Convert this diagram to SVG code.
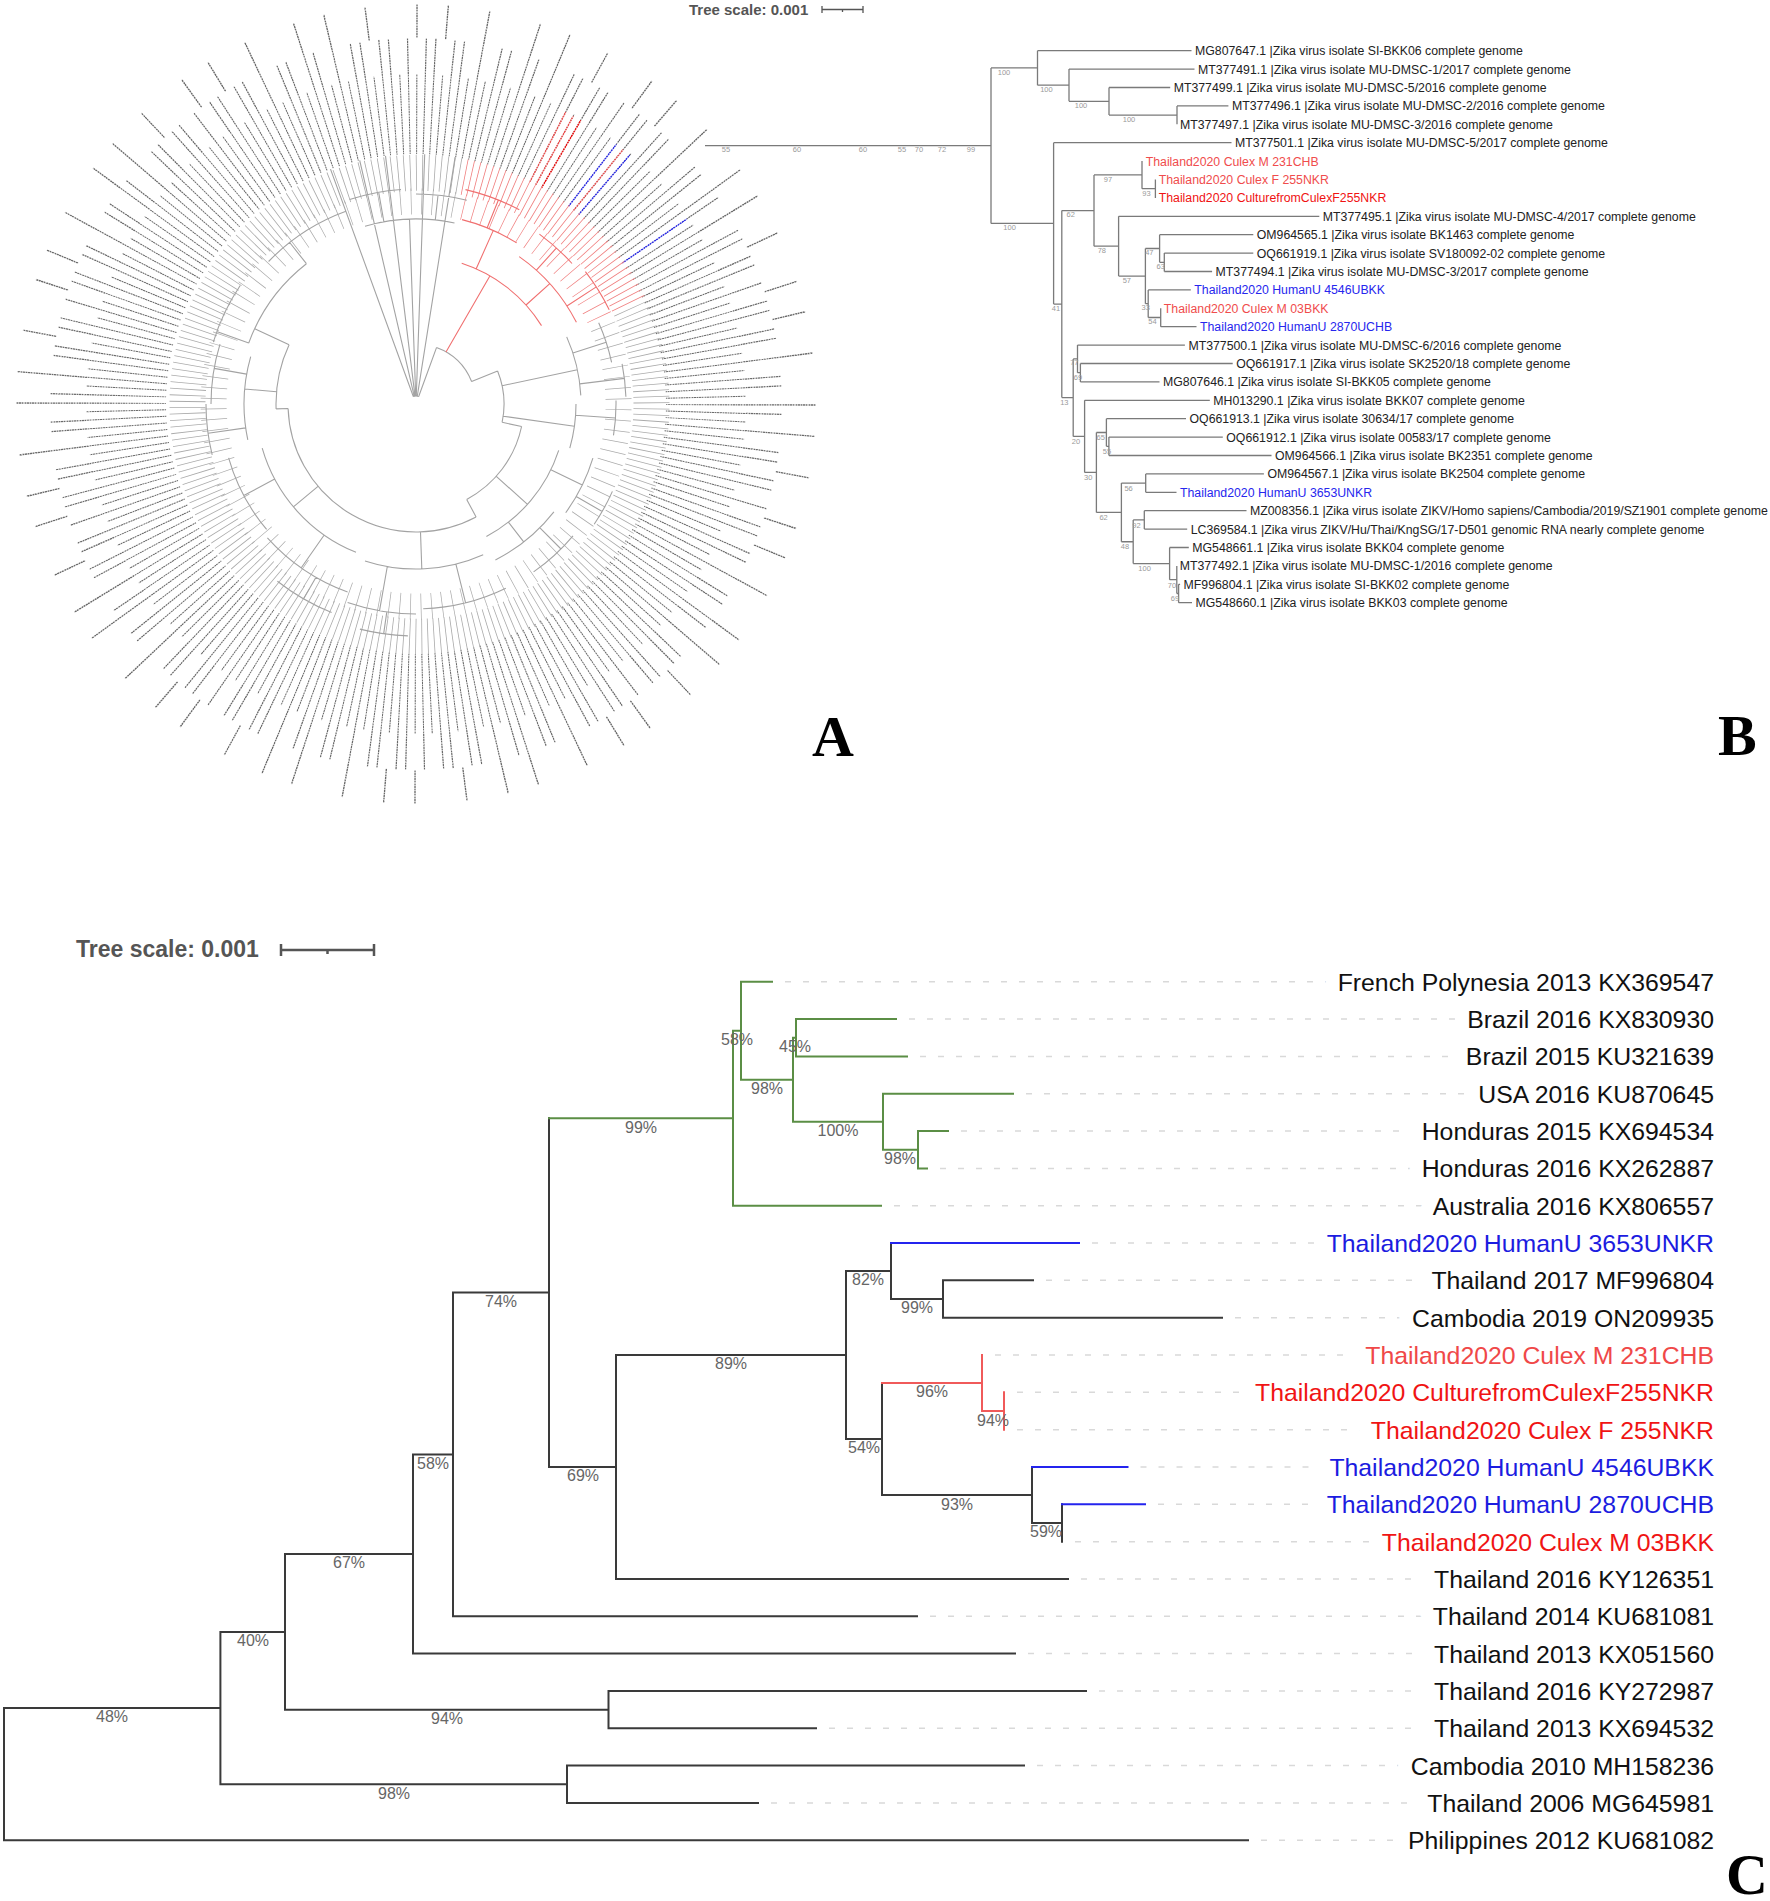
<svg xmlns="http://www.w3.org/2000/svg" width="1770" height="1901" viewBox="0 0 1770 1901">
<defs>
<radialGradient id="txtbreak" gradientUnits="userSpaceOnUse" cx="0" cy="0" r="2.6" spreadMethod="repeat">
<stop offset="0" stop-color="#fff" stop-opacity="0"/>
<stop offset="0.55" stop-color="#fff" stop-opacity="0"/>
<stop offset="0.55" stop-color="#fff" stop-opacity="0.55"/>
<stop offset="1" stop-color="#fff" stop-opacity="0.55"/>
</radialGradient>
</defs>
<style>
.a{fill:none;stroke:#a3a3a3;stroke-width:1.1}
.ar{fill:none;stroke:#f07070;stroke-width:1.1}
.ra{fill:none;stroke:#ababab;stroke-linejoin:bevel}
.rr{fill:none;stroke:#f08080;stroke-linejoin:bevel}
.lb{fill:none;stroke:#6a6a6a;stroke-linejoin:bevel}
.b{fill:none;stroke:#7a7a7a;stroke-width:1.3}
.bt{font-family:"Liberation Sans",Arial,sans-serif;font-size:12.3px;fill:#222}
.btl{fill:#f04c4c}
.btr{fill:#f01212}
.btb{fill:#2626ee}
.bs{font-family:"Liberation Sans",Arial,sans-serif;font-size:7.5px;fill:#9a9a9a;text-anchor:middle}
.ck{fill:none;stroke:#3a3a3a;stroke-width:2;stroke-linecap:square}
.cg{stroke:#5b8e45}
.cb{stroke:#2424ee}
.cr{stroke:#f05a5a}
.cd{fill:none;stroke:#d9d9d9;stroke-width:1.5;stroke-dasharray:6 12}
.ct{font-family:"Liberation Sans",Arial,sans-serif;font-size:24.8px;text-anchor:end;fill:#111;stroke:#fff;stroke-width:28;stroke-linejoin:round;paint-order:stroke}
.ctl{fill:#f04848}
.ctr{fill:#f01414}
.ctb{fill:#1c1ce0}
.cp{font-family:"Liberation Sans",Arial,sans-serif;font-size:16px;fill:#666;text-anchor:middle}
.sc{font-family:"Liberation Sans",Arial,sans-serif;font-weight:bold;fill:#555}
.sb{fill:none;stroke:#555}
.let{font-family:"Liberation Serif","Times New Roman",serif;font-weight:bold;font-size:58px;fill:#000}
</style>
<rect width="1770" height="1901" fill="#fff"/>

<!-- PANEL A: circular tree -->
<g id="panelA" transform="translate(416,404)">
  <g id="A-labels">
    <path class="lb" stroke-width="80" pathLength="360" stroke-dasharray="0.2 1.3" stroke-dashoffset="-0.05" d="M290,0A290,290 0 1 1 -290,0A290,290 0 1 1 290,0"/>
    <path class="lb" stroke-width="36" pathLength="360" stroke-dasharray="0.2 1.3 0.2 2.8 0.2 2.8 0.2 1.3 0.2 2.8" stroke-dashoffset="-0.05" d="M348,0A348,348 0 1 1 -348,0A348,348 0 1 1 348,0"/>
    <path class="lb" stroke-width="34" pathLength="360" stroke-dasharray="0.2 4.3 0.2 5.8 0.2 7.3" stroke-dashoffset="-0.05" d="M383,0A383,383 0 1 1 -383,0A383,383 0 1 1 383,0"/>
    <g stroke-width="1.3">
      <line x1="250" y1="0" x2="328" y2="0" stroke="#f05050" transform="rotate(-62.85)"/>
      <line x1="250" y1="0" x2="328" y2="0" stroke="#f05050" transform="rotate(-61.35)"/>
      <line x1="250" y1="0" x2="328" y2="0" stroke="#f01010" transform="rotate(-59.85)"/>
      <line x1="250" y1="0" x2="328" y2="0" stroke="#f05050" transform="rotate(-50.85)"/>
      <line x1="250" y1="0" x2="328" y2="0" stroke="#2a2af0" transform="rotate(-52.35)"/>
      <line x1="250" y1="0" x2="328" y2="0" stroke="#2a2af0" transform="rotate(-49.35)"/>
      <line x1="250" y1="0" x2="328" y2="0" stroke="#2a2af0" transform="rotate(-34.35)"/>
    </g>
    <circle r="326" fill="none" stroke="url(#txtbreak)" stroke-width="150"/>
  </g>
  <g id="A-branches">
    <path class="ra" stroke-width="36" pathLength="307" stroke-dasharray="0.2 1.3" stroke-dashoffset="0.49" d="M212.8,-99.3A232,232 0 1 1 48.2,-226.9"/>
    <path class="rr" stroke-width="36" pathLength="53" stroke-dasharray="0.2 1.3" stroke-dashoffset="1.49" d="M48.2,-226.9A232,232 0 0 1 212.8,-99.3"/>
    <path class="ra" stroke-width="26" pathLength="307" stroke-dasharray="0.2 2.8" stroke-dashoffset="0.49" d="M183.6,-85.6A202.5,202.5 0 1 1 42.1,-198.1"/>
    <path class="rr" stroke-width="26" pathLength="53" stroke-dasharray="0.2 2.8" stroke-dashoffset="1.49" d="M42.1,-198.1A202.5,202.5 0 0 1 183.6,-85.6"/>
    <path class="a" d="M2.7,-7.5L20.5,-56.4M20.5,-56.4A60,60 0 0 1 55.6,-22.5M55.6,-22.5L81.6,-33M81.6,-33A88,88 0 0 1 86.1,18.3M86.1,18.3L105.6,22.5M105.6,22.5A108,108 0 0 1 50.7,95.4M50.7,95.4L60.1,113M60.1,113A128,128 0 0 1 -127.9,4.5M-127.9,4.5L-139.9,4.9M-139.9,4.9A140,140 0 0 1 -126.9,-59.2
    M-126.9,-59.2L-161.3,-75.3M-167.3,-60.9A178,178 0 0 1 -109.6,-140.3M-167.3,-60.9L-199.3,-72.5M-202.7,-61.9A212,212 0 0 1 -175.8,-118.5M-109.6,-140.3L-126.3,-161.5M-147.4,-142.5A205,205 0 0 1 -70.1,-192.7
    M-139.4,-12.2L-171.3,-15M-168.2,35.8A172,172 0 0 1 -165.3,-47.4M-170.3,23.9L-207.9,29.2M-203.8,50.8A210,210 0 0 1 -210,0M-169.4,-29.9L-201.9,-35.6M-205,0A205,205 0 0 1 -196,-59.9
    M-98,82.3L-122.6,102.9M-60,148.3A160,160 0 0 1 -153.8,44.1M-91.8,131L-114.7,163.8M-68.4,188A200,200 0 0 1 -148.6,133.8M-141.3,75.1L-172.2,91.5M-149.4,125.4A195,195 0 0 1 -187.4,53.8M-100,173.2L-112.5,194.9M-84.4,208.6A225,225 0 0 1 -138.6,177.3
    M4.5,127.9L5.8,164.8M67.2,150.8A165,165 0 0 1 -51,156.9M39.9,160.1L49.6,198.9M89.8,184.3A205,205 0 0 1 7.2,204.8M-28.7,162.5L-36.5,206.8M0,210A210,210 0 0 1 -68.4,198.6M-29.2,207.9L-32.3,229.7M-8.1,231.9A232,232 0 0 1 -56.1,225.1
    M80.3,72.3L111.5,100.4M142.7,46.4A150,150 0 0 1 70.4,132.4M134.8,65.8L166.3,81.1M176.9,54.1A185,185 0 0 1 149.7,108.7M92.4,118.2L107.7,137.9M137.9,107.8A175,175 0 0 1 79.4,155.9M123.7,123.7L145,145M157,131.8A205,205 0 0 1 117.6,167.9M160.2,92.5L186.2,107.5M196.4,87.4A215,215 0 0 1 178.2,120.2
    M87.1,12.2L158.4,22.3M160,0A160,160 0 0 1 153.8,44.1M159.6,11.2L199.5,14M200,-3.5A200,200 0 0 1 197.5,31.3
    M86.1,-18.3L161.4,-34.3M150.7,-67.1A165,165 0 0 1 164.8,-8.6M156.9,-51L190.2,-61.8M182.7,-81.3A200,200 0 0 1 195.6,-41.6M163.8,-20.1L208.4,-25.6M206.1,-40.1A210,210 0 0 1 209.9,-7.3
    M-0.3,-8L-6.5,-184.9M-51,-177.8A185,185 0 0 1 38.5,-181M-32.1,-182.2L-37.3,-211.7M-66.4,-204.5A215,215 0 0 1 -15,-214.5M19.3,-184L22,-208.8M0,-210A210,210 0 0 1 50.8,-203.8
    M-2.7,-7.5L-85.5,-234.9M-1.8,-7.8L-56.3,-243.6M-1,-7.9L-30.5,-248.1M0.3,-8L8.7,-249.8M1.3,-7.9L39.1,-246.9M-2.7,-7.5A8,8 0 0 1 2.7,-7.5"/>
    <path class="ar" d="M30,-52L74,-128.2M45.7,-140.7A148,148 0 0 1 125.5,-78.4M60.2,-135.2L77.3,-173.6M46,-184.4A190,190 0 0 1 100.7,-161.1M110,-99L133.8,-120.4M103.2,-147.4A180,180 0 0 1 160.4,-81.7M120.4,-133.8L140.5,-156.1M123.4,-169.9A210,210 0 0 1 156,-140.5M150.9,-98L180.3,-117.1M169.4,-132.4A215,215 0 0 1 193.2,-94.3M71.2,-176.2L82.4,-204M49.5,-214.4A220,220 0 0 1 103.3,-194.2"/>
  </g>
</g>
<g id="A-scale">
  <text class="sc" x="689" y="15" font-size="15">Tree scale: 0.001</text>
  <path class="sb" stroke-width="1.3" d="M822,9.5H863M822,6V13M863,6V13M842.5,9.5V12"/>
</g>
<text id="labelA" class="let" x="812" y="756">A</text>

<!-- PANEL B -->
<g id="connectors">
<g id="B-connectors">
<path class="b" d="M705,145.7H991M991,67.95V223.4M991,67.95H1037.5M1037.5,50.7V85.2M1037.5,50.7H1191.5M1037.5,85.2H1069M1069,69.1V101.3M1069,69.1H1194.5M1069,101.3H1109M1109,87.5V115.1M1109,87.5H1170.2M1109,115.1H1177M1177,105.9V124.3M1177,105.9H1228.4
M991,223.4H1053.6M1053.6,142.7V304.1M1053.6,142.7H1231.5M1053.6,304.1H1061.8M1061.8,210.6V397.6M1061.8,210.6H1094M1094,174.9V246.2M1094,174.9H1142M1142,161.1V188.7M1142,188.7H1155.4M1155.4,179.5V197.9M1094,246.2H1118.6M1118.6,216.3V276.1M1118.6,216.3H1319.3M1118.6,276.1H1145.4M1145.4,248.5V303.7M1145.4,248.5H1159.6M1159.6,234.7V262.3M1159.6,234.7H1253.3M1159.6,262.3H1164.3M1164.3,253.1V271.5M1164.3,253.1H1253.3M1164.3,271.5H1212.1M1145.4,303.7H1148.2M1148.2,289.9V317.5M1148.2,289.9H1190.8M1148.2,317.5H1160.7M1160.7,308.3V326.7M1160.7,326.7H1196.5
M1061.8,397.6H1073.2M1073.2,358.9V436.4M1073.2,358.9H1077.5M1077.5,345.1V372.7M1077.5,345.1H1184.9M1077.5,372.7H1080.4M1080.4,363.5V381.9M1080.4,363.5H1232.7M1080.4,381.9H1159.5M1073.2,436.4H1084.6M1084.6,400.3V472.45M1084.6,400.3H1209.8M1084.6,472.45H1096.4M1096.4,432.5V512.4M1096.4,432.5H1106.4M1106.4,418.7V446.3M1106.4,418.7H1186M1106.4,446.3H1108.9M1108.9,437.1V455.5M1108.9,437.1H1222.8M1108.9,455.5H1271.5M1096.4,512.4H1121.4M1121.4,483.1V541.75M1121.4,483.1H1145.7M1145.7,473.9V492.3M1145.7,473.9H1263.9M1145.7,492.3H1176.5M1121.4,541.75H1133.2M1133.2,519.9V563.6M1133.2,519.9H1144.3M1144.3,510.7V529.1M1144.3,510.7H1246.5M1144.3,529.1H1187.2M1133.2,563.6H1169.6M1169.6,547.5V579.7M1169.6,547.5H1188.8M1169.6,579.7H1176.8M1176.8,565.9V593.5M1176.8,593.5H1178.6M1178.6,584.3V602.7M1178.6,584.3H1180.1M1178.6,602.7H1192"/>
</g>
<g id="C-connectors">
<path class="ck" d="M4,1708.1V1840.3M4,1708.1H220.4M4,1840.3H1248M220.4,1631.9V1784.3M220.4,1631.9H285M220.4,1784.3H567M567,1765.6V1803M567,1765.6H1024M567,1803H758M285,1554V1709.7M285,1554H413M285,1709.7H608.5M608.5,1691V1728.3M608.5,1691H1086M608.5,1728.3H816M413,1454.5V1653.6M413,1454.5H453M413,1653.6H1015M453,1292.6V1616.3M453,1292.6H549M453,1616.3H917M549,1118.2V1467M549,1467H616M616,1355V1579M616,1355H846M616,1579H1068M846,1271V1439M846,1271H891M846,1439H882M891,1243V1299M891,1299H943M943,1280.3V1317.7M943,1280.3H1033M943,1317.7H1222M882,1383V1495M882,1495H1032M1032,1467V1523M1032,1523H1062M1062,1504.3V1541.7"/>
<path class="ck cg" d="M549,1118.2H733M733,1030.7V1205.7M733,1030.7H741M733,1205.7H881M741,981.7V1079.7M741,981.7H772M741,1079.7H793M793,1037.7V1121.7M793,1037.7H796M793,1121.7H883M796,1019V1056.4M796,1019H896M796,1056.4H907M883,1093.7V1149.7M883,1093.7H1013M883,1149.7H918M918,1131V1168.4M918,1131H948M918,1168.4H927"/>
<path class="ck cb" d="M891,1243H1079M1032,1467H1127.5M1062,1504.3H1145"/>
<path class="ck cr" d="M882,1383H982M982,1355V1411M982,1411H1004M1004,1392.3V1429.7"/>
<path class="cd" d="M785,981.7H1705M909,1019H1705M920,1056.4H1705M1026,1093.7H1705M961,1131H1705M940,1168.4H1705M894,1205.7H1705M1092,1243H1705M1046,1280.3H1705M1235,1317.7H1705M995,1355H1705M1017,1392.3H1705M1017,1429.7H1705M1140.5,1467H1705M1158,1504.3H1705M1075,1541.7H1705M1081,1579H1705M930,1616.3H1705M1028,1653.6H1705M1099,1691H1705M829,1728.3H1705M1037,1765.6H1705M771,1803H1705M1261,1840.3H1705"/>
</g>
</g>

<g id="B-support">
<text class="bs" x="726" y="152">55</text><text class="bs" x="797" y="152">60</text><text class="bs" x="863" y="152">60</text><text class="bs" x="902" y="152">55</text><text class="bs" x="919" y="152">70</text><text class="bs" x="942" y="152">72</text><text class="bs" x="971" y="152">99</text>
<text class="bs" x="1004" y="74.7">100</text><text class="bs" x="1046.4" y="92">100</text><text class="bs" x="1081" y="108">100</text><text class="bs" x="1129" y="122">100</text><text class="bs" x="1009.6" y="230.4">100</text>
<text class="bs" x="1070.7" y="217">62</text><text class="bs" x="1107.9" y="181.7">97</text><text class="bs" x="1146.4" y="196">93</text><text class="bs" x="1101.8" y="253.4">78</text><text class="bs" x="1126.8" y="283.4">57</text><text class="bs" x="1149.3" y="255">47</text><text class="bs" x="1160.7" y="269.4">63</text><text class="bs" x="1145.7" y="310">33</text><text class="bs" x="1152.5" y="324.4">54</text><text class="bs" x="1056" y="311">41</text>
<text class="bs" x="1064.3" y="405.4">13</text><text class="bs" x="1074.3" y="365.4">77</text><text class="bs" x="1077.9" y="380">69</text><text class="bs" x="1076" y="443.7">20</text><text class="bs" x="1088.2" y="480">30</text><text class="bs" x="1100.7" y="440">65</text><text class="bs" x="1107" y="453.7">55</text><text class="bs" x="1103.6" y="520">62</text><text class="bs" x="1128.6" y="491">56</text><text class="bs" x="1125" y="549.4">48</text><text class="bs" x="1136.4" y="527.7">92</text><text class="bs" x="1144.6" y="571.4">100</text><text class="bs" x="1172" y="587.7">70</text><text class="bs" x="1175" y="601">69</text>
</g>

<g id="B-leaves">
<text id="b0" class="bt" x="1195" y="55.1">MG807647.1 |Zika virus isolate SI-BKK06 complete genome</text>
<text id="b1" class="bt" x="1198" y="73.5">MT377491.1 |Zika virus isolate MU-DMSC-1/2017 complete genome</text>
<text id="b2" class="bt" x="1173.7" y="91.9">MT377499.1 |Zika virus isolate MU-DMSC-5/2016 complete genome</text>
<text id="b3" class="bt" x="1231.9" y="110.3">MT377496.1 |Zika virus isolate MU-DMSC-2/2016 complete genome</text>
<text id="b4" class="bt" x="1180" y="128.7">MT377497.1 |Zika virus isolate MU-DMSC-3/2016 complete genome</text>
<text id="b5" class="bt" x="1235" y="147.1">MT377501.1 |Zika virus isolate MU-DMSC-5/2017 complete genome</text>
<text id="b6" class="bt btl" x="1145.7" y="165.5">Thailand2020 Culex M 231CHB</text>
<text id="b7" class="bt btl" x="1158.7" y="183.9">Thailand2020 Culex F 255NKR</text>
<text id="b8" class="bt btr" x="1158.7" y="202.3">Thailand2020 CulturefromCulexF255NKR</text>
<text id="b9" class="bt" x="1322.8" y="220.7">MT377495.1 |Zika virus isolate MU-DMSC-4/2017 complete genome</text>
<text id="b10" class="bt" x="1256.8" y="239.1">OM964565.1 |Zika virus isolate BK1463 complete genome</text>
<text id="b11" class="bt" x="1256.8" y="257.5">OQ661919.1 |Zika virus isolate SV180092-02 complete genome</text>
<text id="b12" class="bt" x="1215.6" y="275.9">MT377494.1 |Zika virus isolate MU-DMSC-3/2017 complete genome</text>
<text id="b13" class="bt btb" x="1194.3" y="294.3">Thailand2020 HumanU 4546UBKK</text>
<text id="b14" class="bt btl" x="1163.8" y="312.7">Thailand2020 Culex M 03BKK</text>
<text id="b15" class="bt btb" x="1200" y="331.1">Thailand2020 HumanU 2870UCHB</text>
<text id="b16" class="bt" x="1188.4" y="349.5">MT377500.1 |Zika virus isolate MU-DMSC-6/2016 complete genome</text>
<text id="b17" class="bt" x="1236.2" y="367.9">OQ661917.1 |Zika virus isolate SK2520/18 complete genome</text>
<text id="b18" class="bt" x="1163" y="386.3">MG807646.1 |Zika virus isolate SI-BKK05 complete genome</text>
<text id="b19" class="bt" x="1213.3" y="404.7">MH013290.1 |Zika virus isolate BKK07 complete genome</text>
<text id="b20" class="bt" x="1189.5" y="423.1">OQ661913.1 |Zika virus isolate 30634/17 complete genome</text>
<text id="b21" class="bt" x="1226.3" y="441.5">OQ661912.1 |Zika virus isolate 00583/17 complete genome</text>
<text id="b22" class="bt" x="1275" y="459.9">OM964566.1 |Zika virus isolate BK2351 complete genome</text>
<text id="b23" class="bt" x="1267.4" y="478.3">OM964567.1 |Zika virus isolate BK2504 complete genome</text>
<text id="b24" class="bt btb" x="1180" y="496.7">Thailand2020 HumanU 3653UNKR</text>
<text id="b25" class="bt" x="1250" y="515.1">MZ008356.1 |Zika virus isolate ZIKV/Homo sapiens/Cambodia/2019/SZ1901 complete genome</text>
<text id="b26" class="bt" x="1190.7" y="533.5">LC369584.1 |Zika virus ZIKV/Hu/Thai/KngSG/17-D501 genomic RNA nearly complete genome</text>
<text id="b27" class="bt" x="1192.3" y="551.9">MG548661.1 |Zika virus isolate BKK04 complete genome</text>
<text id="b28" class="bt" x="1179.7" y="570.3">MT377492.1 |Zika virus isolate MU-DMSC-1/2016 complete genome</text>
<text id="b29" class="bt" x="1183.6" y="588.7">MF996804.1 |Zika virus isolate SI-BKK02 complete genome</text>
<text id="b30" class="bt" x="1195.5" y="607.1">MG548660.1 |Zika virus isolate BKK03 complete genome</text>
</g>
<text id="labelB" class="let" x="1718" y="755">B</text>

<!-- PANEL C -->
<g id="C-scale">
  <text class="sc" x="76" y="957" font-size="23">Tree scale: 0.001</text>
  <path class="sb" stroke-width="2.5" d="M281,950H374M281,944V956M374,944V956M327.5,950V954"/>
</g>
<g id="C-support">
<text class="cp" x="737" y="1045">58%</text>
<text class="cp" x="795" y="1052">45%</text>
<text class="cp" x="767" y="1094">98%</text>
<text class="cp" x="641" y="1132.5">99%</text>
<text class="cp" x="838" y="1136">100%</text>
<text class="cp" x="900" y="1164">98%</text>
<text class="cp" x="501" y="1306.5">74%</text>
<text class="cp" x="731" y="1369">89%</text>
<text class="cp" x="868" y="1285">82%</text>
<text class="cp" x="917" y="1313">99%</text>
<text class="cp" x="864" y="1453">54%</text>
<text class="cp" x="932" y="1397">96%</text>
<text class="cp" x="993" y="1425.5">94%</text>
<text class="cp" x="957" y="1509.5">93%</text>
<text class="cp" x="1046" y="1537">59%</text>
<text class="cp" x="583" y="1481">69%</text>
<text class="cp" x="433" y="1468.5">58%</text>
<text class="cp" x="349" y="1568">67%</text>
<text class="cp" x="253" y="1646">40%</text>
<text class="cp" x="447" y="1724">94%</text>
<text class="cp" x="112" y="1722">48%</text>
<text class="cp" x="394" y="1798.5">98%</text>
</g>
<g id="C-leaves">
<text id="c0" class="ct" x="1714" y="990.6">French Polynesia 2013 KX369547</text>
<text id="c1" class="ct" x="1714" y="1027.9">Brazil 2016 KX830930</text>
<text id="c2" class="ct" x="1714" y="1065.3">Brazil 2015 KU321639</text>
<text id="c3" class="ct" x="1714" y="1102.6">USA 2016 KU870645</text>
<text id="c4" class="ct" x="1714" y="1139.9">Honduras 2015 KX694534</text>
<text id="c5" class="ct" x="1714" y="1177.3">Honduras 2016 KX262887</text>
<text id="c6" class="ct" x="1714" y="1214.6">Australia 2016 KX806557</text>
<text id="c7" class="ct ctb" x="1714" y="1251.9">Thailand2020 HumanU 3653UNKR</text>
<text id="c8" class="ct" x="1714" y="1289.2">Thailand 2017 MF996804</text>
<text id="c9" class="ct" x="1714" y="1326.6">Cambodia 2019 ON209935</text>
<text id="c10" class="ct ctl" x="1714" y="1363.9">Thailand2020 Culex M 231CHB</text>
<text id="c11" class="ct ctr" x="1714" y="1401.2">Thailand2020 CulturefromCulexF255NKR</text>
<text id="c12" class="ct ctr" x="1714" y="1438.6">Thailand2020 Culex F 255NKR</text>
<text id="c13" class="ct ctb" x="1714" y="1475.9">Thailand2020 HumanU 4546UBKK</text>
<text id="c14" class="ct ctb" x="1714" y="1513.2">Thailand2020 HumanU 2870UCHB</text>
<text id="c15" class="ct ctr" x="1714" y="1550.6">Thailand2020 Culex M 03BKK</text>
<text id="c16" class="ct" x="1714" y="1587.9">Thailand 2016 KY126351</text>
<text id="c17" class="ct" x="1714" y="1625.2">Thailand 2014 KU681081</text>
<text id="c18" class="ct" x="1714" y="1662.5">Thailand 2013 KX051560</text>
<text id="c19" class="ct" x="1714" y="1699.9">Thailand 2016 KY272987</text>
<text id="c20" class="ct" x="1714" y="1737.2">Thailand 2013 KX694532</text>
<text id="c21" class="ct" x="1714" y="1774.5">Cambodia 2010 MH158236</text>
<text id="c22" class="ct" x="1714" y="1811.9">Thailand 2006 MG645981</text>
<text id="c23" class="ct" x="1714" y="1849.2">Philippines 2012 KU681082</text>
</g>
<text id="labelC" class="let" x="1726" y="1894">C</text>
</svg>
